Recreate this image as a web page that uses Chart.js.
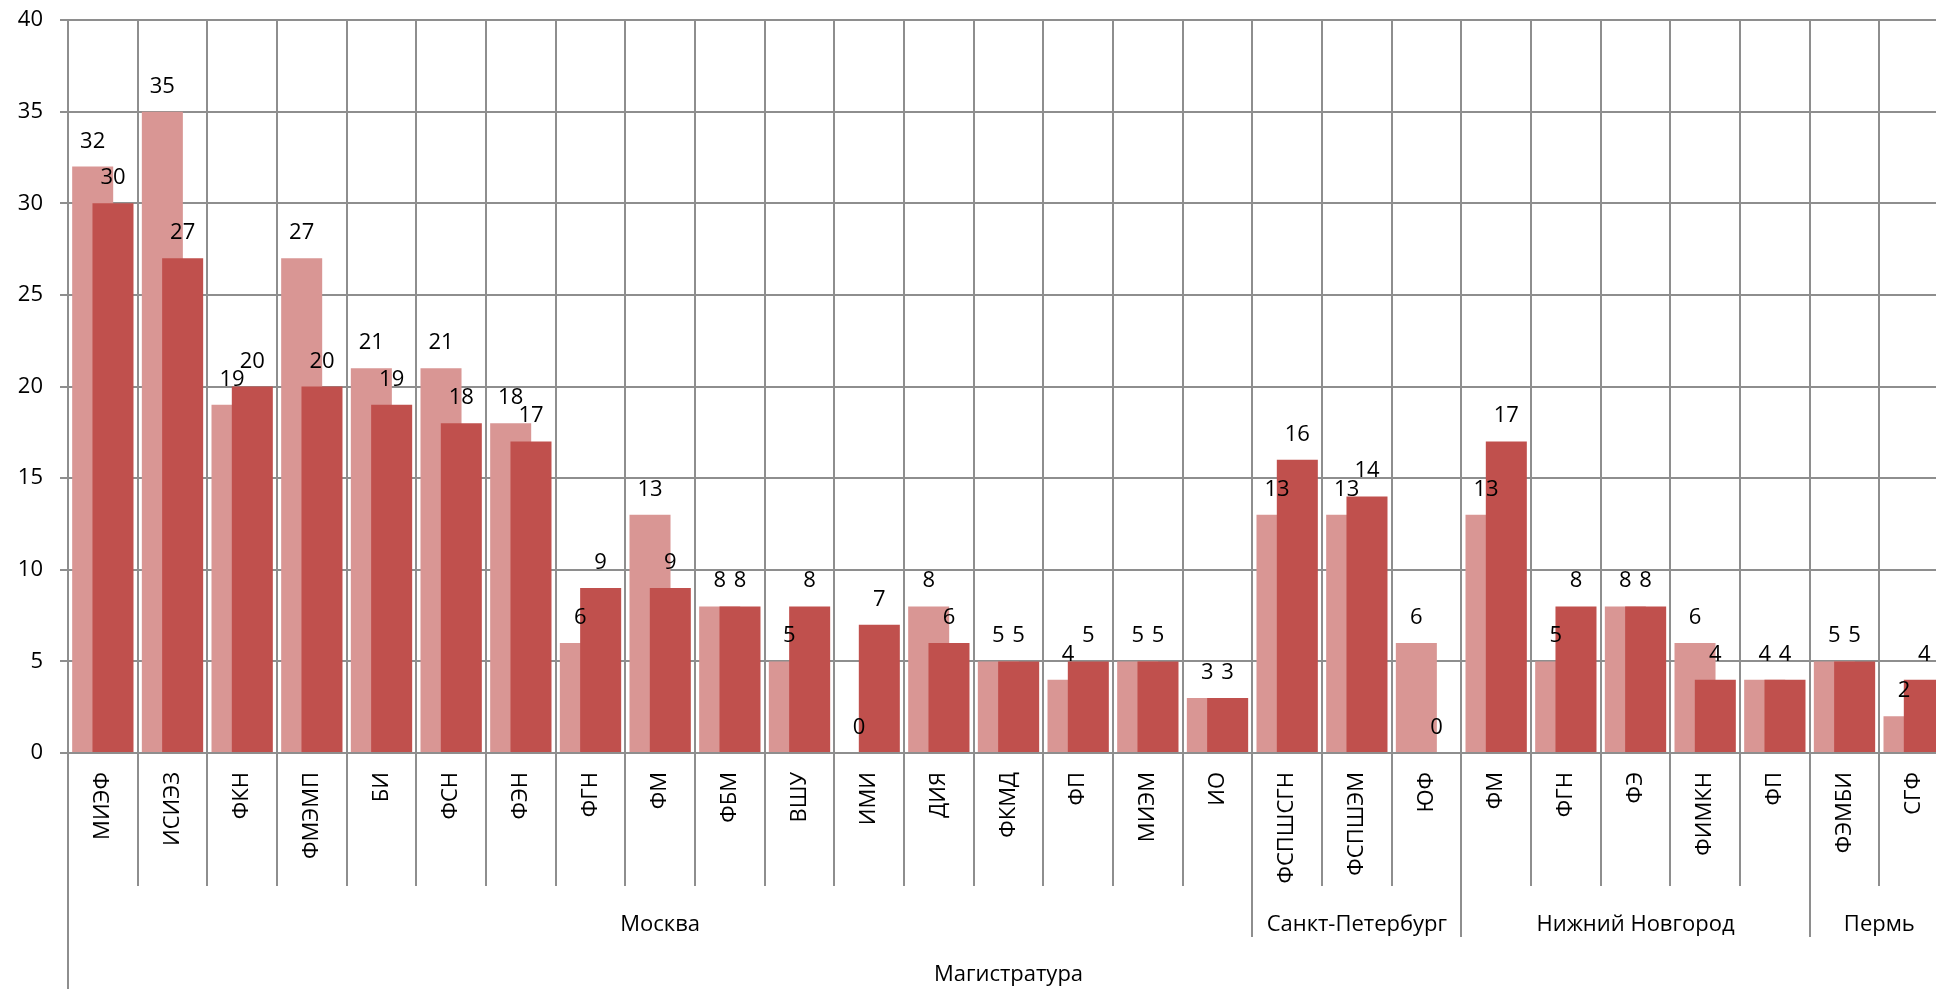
<!DOCTYPE html>
<html>
<head>
<meta charset="utf-8">
<script src="https://cdn.jsdelivr.net/npm/chart.js@4/dist/chart.umd.min.js"></script>
<style>
  html, body { margin: 0; padding: 0; background: #fff; overflow: hidden; }
  #wrap { position: absolute; left: 0; top: 0; width: 1950px; height: 1001px; }
</style>
</head>
<body>
<div id="wrap"><canvas id="c" width="1950" height="1001"></canvas></div>
<script>
// ---- data ----
const categories = ['МИЭФ','ИСИЭЗ','ФКН','ФМЭМП','БИ','ФСН','ФЭН','ФГН','ФМ','ФБМ','ВШУ','ИМИ','ДИЯ','ФКМД','ФП','МИЭМ','ИО',
                    'ФСПШСГН','ФСПШЭМ','ЮФ',
                    'ФМ','ФГН','ФЭ','ФИМКН','ФП',
                    'ФЭМБИ','СГФ'];
const cities = ['Москва','Санкт-Петербург','Нижний Новгород','Пермь'];
const cityCounts = [17, 3, 5, 2];
const topLevel = 'Магистратура';
const seriesLight = [32,35,19,27,21,21,18,6,13,8,5,0,8,5,4,5,3, 13,13,6, 13,5,8,6,4, 5,2];
const seriesDark  = [30,27,20,20,19,18,17,9,9,8,8,7,6,5,5,5,3, 16,14,0, 17,8,8,4,4, 5,4];
const yMin = 0, yMax = 40, yStep = 5;

const FONT = "'Open Sans', 'DejaVu Sans', sans-serif";
const GRID = '#8e8e8e';

// draw datasets so the second (dark) series lies on top of the first, keeping left/right placement
const orderPlugin = {
  id: 'orderPlugin',
  beforeDatasetsDraw(chart) {
    const ctx = chart.ctx;
    const metas = chart.getSortedVisibleDatasetMetas();
    for (const m of metas) m.controller.draw();
    // value labels
    ctx.save();
    ctx.font = '22px ' + FONT;
    ctx.fillStyle = '#000';
    ctx.textAlign = 'center';
    ctx.textBaseline = 'alphabetic';
    for (const m of metas) {
      const ds = chart.data.datasets[m.index];
      m.data.forEach((el, i) => {
        ctx.fillText(String(ds.data[i]), el.x, el.y - 19);
      });
    }
    ctx.restore();
    return false;
  }
};

// multi-level category axis: group lines and group labels
const groupPlugin = {
  id: 'groupPlugin',
  afterDraw(chart) {
    const x = chart.scales.x;
    const ctx = chart.ctx;
    const w = x.getPixelForValue(1) - x.getPixelForValue(0);
    const edge = i => x.getPixelForValue(0) - w / 2 + i * w;
    const y0 = chart.chartArea.bottom;
    ctx.save();
    ctx.strokeStyle = GRID;
    ctx.lineWidth = 2;
    let idx = 0;
    const bounds = [0];
    cityCounts.forEach(n => { idx += n; bounds.push(idx); });
    bounds.forEach(b => {
      const px = Math.round(edge(b));
      ctx.beginPath(); ctx.moveTo(px, y0); ctx.lineTo(px, 937); ctx.stroke();
    });
    [0, categories.length].forEach(b => {
      const px = Math.round(edge(b));
      ctx.beginPath(); ctx.moveTo(px, y0); ctx.lineTo(px, 989); ctx.stroke();
    });
    ctx.font = '22px ' + FONT;
    ctx.fillStyle = '#000';
    ctx.textAlign = 'center';
    ctx.textBaseline = 'alphabetic';
    for (let k = 0; k < cities.length; k++) {
      const cx = (edge(bounds[k]) + edge(bounds[k + 1])) / 2;
      ctx.fillText(cities[k], cx, 931);
    }
    ctx.fillText(topLevel, (edge(0) + edge(categories.length)) / 2, 981);
    ctx.restore();
  }
};

new Chart(document.getElementById('c'), {
  type: 'bar',
  data: {
    labels: categories,
    datasets: [
      { label: 'Ряд 1', data: seriesLight, backgroundColor: '#D99694', borderWidth: 0,
        categoryPercentage: 0.583, barPercentage: 2.02 },
      { label: 'Ряд 2', data: seriesDark, backgroundColor: '#C0504D', borderWidth: 0,
        categoryPercentage: 0.583, barPercentage: 2.02 }
    ]
  },
  options: {
    responsive: false,
    animation: false,
    devicePixelRatio: 1,
    layout: { padding: { top: 20, right: 1, left: 0, bottom: 0 } },
    plugins: { legend: { display: false }, tooltip: { enabled: false } },
    scales: {
      x: {
        offset: true,
        grid: { color: GRID, lineWidth: 2, offset: true, drawTicks: true, tickLength: 133 },
        border: { color: GRID, width: 2 },
        ticks: {
          autoSkip: false, minRotation: 90, maxRotation: 90, padding: -114,
          color: '#000', font: { family: FONT, size: 22 }
        },
        afterFit(s) { s.height = 248; s.paddingLeft = 0; s.paddingRight = 0; }
      },
      y: {
        min: yMin, max: yMax,
        grid: { color: GRID, lineWidth: 2, drawTicks: true, tickLength: 8 },
        border: { color: GRID, width: 2 },
        ticks: { stepSize: yStep, padding: 17, color: '#000', font: { family: FONT, size: 22 } },
        afterFit(s) { s.width = 68; s.paddingTop = 0; s.paddingBottom = 0; }
      }
    }
  },
  plugins: [orderPlugin, groupPlugin]
});
</script>
</body>
</html>
